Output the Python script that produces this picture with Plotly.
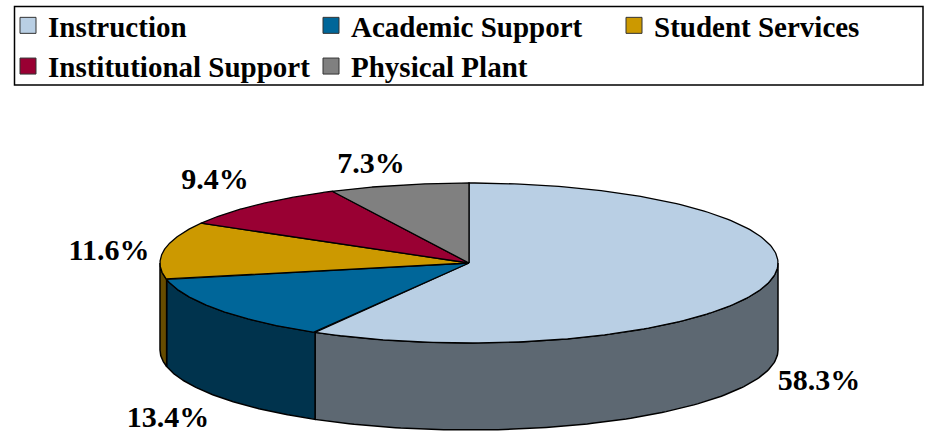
import numpy as np
import plotly.graph_objects as go

categories = ["Instruction", "Academic Support", "Student Services", "Institutional Support", "Physical Plant"]
shares = [58.3, 13.4, 11.6, 9.4, 7.3]
labels = ["58.3%", "13.4%", "11.6%", "9.4%", "7.3%"]
top_colors = ["#B9CFE4", "#006699", "#CC9900", "#990033", "#808080"]
side_colors = ["#5D6872", "#00334D", "#664C00", "#4D001A", "#404040"]
label_xy = [(819, 382), (168, 419), (109, 252), (215, 181), (371, 165)]

CX, CY, RX, RY, DEPTH = 469, 263, 309, 80, 87
FONT = "Liberation Serif"

def pt(deg, drop=0.0):
    t = np.radians(deg)
    return CX + RX * np.sin(t), CY - RY * np.cos(t) + drop

fig = go.Figure()
edges = np.cumsum([0] + shares) * 3.6

for i in range(len(shares)):
    a, b = max(edges[i], 90), min(edges[i + 1], 270)
    if b <= a:
        continue
    ts = np.linspace(a, b, 120)
    x1, y1 = pt(ts)
    x2, y2 = pt(ts[::-1], DEPTH)
    fig.add_trace(go.Scatter(x=np.r_[x1, x2, x1[0]], y=np.r_[y1, y2, y1[0]], mode="lines", fill="toself",
                             fillcolor=side_colors[i], line=dict(color="black", width=1.5),
                             showlegend=False, hoverinfo="skip"))

for i in range(len(shares)):
    ts = np.linspace(edges[i], edges[i + 1], 200)
    x, y = pt(ts)
    fig.add_trace(go.Scatter(x=np.r_[CX, x, CX], y=np.r_[CY, y, CY], mode="lines", fill="toself",
                             fillcolor=top_colors[i], line=dict(color="black", width=1.3),
                             showlegend=False, name=categories[i], hoverinfo="skip"))

for name, c in zip(categories, top_colors):
    fig.add_trace(go.Scatter(x=[None], y=[None], mode="markers", name=name,
                             marker=dict(symbol="square", size=17, color=c, line=dict(color="#333333", width=1))))

fig.add_trace(go.Scatter(x=[p[0] for p in label_xy], y=[p[1] for p in label_xy], mode="text", text=labels,
                         cliponaxis=False,
                         textfont=dict(family=FONT, size=30, color="black", weight="bold"),
                         showlegend=False, hoverinfo="skip"))

fig.update_layout(
    width=925, height=432, margin=dict(l=0, r=0, t=0, b=0),
    paper_bgcolor="white", plot_bgcolor="white",
    xaxis=dict(range=[0, 925], visible=False, fixedrange=True),
    yaxis=dict(range=[432, 0], visible=False, fixedrange=True),
    shapes=[dict(type="rect", xref="x", yref="y", x0=14.5, x1=923, y0=6.5, y1=85,
                 line=dict(color="black", width=1.5), fillcolor="rgba(0,0,0,0)", layer="above")],
    legend=dict(orientation="h", x=8 / 925, y=1, xanchor="left", yanchor="top",
                borderwidth=0, bgcolor="rgba(0,0,0,0)",
                font=dict(family=FONT, size=29, color="black", weight="bold"),
                entrywidth=258, entrywidthmode="pixels", itemwidth=30, traceorder="normal"),
)
fig.write_html("out.html", post_script="document.body.style.margin='0';", config=dict(displayModeBar=False))
